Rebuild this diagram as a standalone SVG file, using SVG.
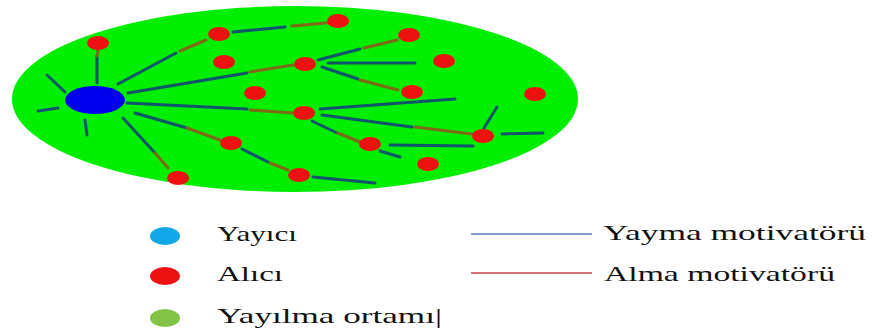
<svg xmlns="http://www.w3.org/2000/svg" width="872" height="336" viewBox="0 0 872 336">
<style>
.b{stroke:#10566a;stroke-width:3;fill:none;stroke-linecap:round}
.r{stroke:#7e6a16;stroke-width:3;fill:none;stroke-linecap:round}
.rc{fill:#ee1111}
.t{font-family:"Liberation Serif","Times New Roman",serif;font-size:21px;fill:#111}
</style>
<rect width="872" height="336" fill="#ffffff"/>
<g id="medium"><ellipse cx="295" cy="99" rx="283" ry="93" fill="#00ee00"/></g>
<g id="connectors">
<line class="b" x1="97" y1="83" x2="97" y2="56"/><line class="r" x1="97" y1="56" x2="98" y2="50"/>
<line class="b" x1="47" y1="75" x2="65" y2="92"/>
<line class="b" x1="38" y1="111" x2="58" y2="108"/>
<line class="b" x1="85" y1="120" x2="87" y2="135"/>
<line class="b" x1="123" y1="118" x2="155" y2="153"/><line class="r" x1="155" y1="153" x2="168" y2="168"/>
<line class="b" x1="135" y1="113" x2="187" y2="128"/><line class="r" x1="187" y1="128" x2="220" y2="140"/>
<line class="b" x1="127" y1="103" x2="247" y2="109"/><line class="r" x1="250" y1="110" x2="293" y2="113"/>
<line class="b" x1="128" y1="93" x2="247" y2="73"/><line class="r" x1="250" y1="72" x2="293" y2="65"/>
<line class="b" x1="118" y1="84" x2="176" y2="53"/><line class="r" x1="180" y1="51" x2="206" y2="40"/>
<line class="b" x1="233" y1="32" x2="285" y2="27"/><line class="r" x1="292" y1="26" x2="326" y2="23"/>
<line class="b" x1="318" y1="60" x2="360" y2="49"/><line class="r" x1="364" y1="48" x2="397" y2="40"/>
<line class="b" x1="328" y1="63" x2="415" y2="63"/>
<line class="b" x1="322" y1="67" x2="358" y2="79"/><line class="r" x1="360" y1="80" x2="398" y2="90"/>
<line class="b" x1="320" y1="109" x2="455" y2="99"/>
<line class="b" x1="322" y1="115" x2="412" y2="127"/><line class="r" x1="415" y1="127" x2="472" y2="134"/>
<line class="b" x1="312" y1="121" x2="337" y2="133"/><line class="r" x1="338" y1="133" x2="360" y2="142"/>
<line class="b" x1="390" y1="145" x2="473" y2="146"/>
<line class="b" x1="380" y1="151" x2="400" y2="157"/>
<line class="b" x1="484" y1="128" x2="497" y2="107"/>
<line class="b" x1="502" y1="134" x2="543" y2="133"/>
<line class="b" x1="242" y1="149" x2="268" y2="162"/><line class="r" x1="270" y1="163" x2="288" y2="170"/>
<line class="b" x1="313" y1="177" x2="375" y2="183"/>
</g>
<g id="hub"><ellipse cx="95" cy="100" rx="30" ry="14" fill="#0000ee"/></g>
<g id="receivers">
<ellipse class="rc" cx="98" cy="43" rx="11" ry="7"/>
<ellipse class="rc" cx="219" cy="34" rx="11" ry="7"/>
<ellipse class="rc" cx="338" cy="21" rx="11" ry="7"/>
<ellipse class="rc" cx="409" cy="35" rx="11" ry="7"/>
<ellipse class="rc" cx="224" cy="62" rx="11" ry="7"/>
<ellipse class="rc" cx="305" cy="64" rx="11" ry="7"/>
<ellipse class="rc" cx="444" cy="61" rx="11" ry="7"/>
<ellipse class="rc" cx="255" cy="93" rx="11" ry="7"/>
<ellipse class="rc" cx="412" cy="92" rx="11" ry="7"/>
<ellipse class="rc" cx="535" cy="94" rx="11" ry="7"/>
<ellipse class="rc" cx="304" cy="113" rx="11" ry="7"/>
<ellipse class="rc" cx="483" cy="136" rx="11" ry="7"/>
<ellipse class="rc" cx="231" cy="143" rx="11" ry="7"/>
<ellipse class="rc" cx="370" cy="144" rx="11" ry="7"/>
<ellipse class="rc" cx="428" cy="164" rx="11" ry="7"/>
<ellipse class="rc" cx="178" cy="178" rx="11" ry="7"/>
<ellipse class="rc" cx="299" cy="175" rx="11" ry="7"/>
</g>
<g id="legend">
<ellipse cx="165" cy="236" rx="15" ry="9" fill="#12a8e8"/>
<ellipse cx="165" cy="276" rx="15" ry="9" fill="#ee1111"/>
<ellipse cx="165" cy="318" rx="15" ry="9" fill="#82c244"/>
<text class="t" x="217" y="241" textLength="80" lengthAdjust="spacingAndGlyphs">Yayıcı</text>
<text class="t" x="217" y="281" textLength="66" lengthAdjust="spacingAndGlyphs">Alıcı</text>
<text class="t" x="217" y="323" textLength="225" lengthAdjust="spacingAndGlyphs">Yayılma ortamı|</text>
<line x1="471" y1="234" x2="592" y2="234" stroke="#5a82b0" stroke-width="1.5"/>
<line x1="471" y1="273" x2="592" y2="273" stroke="#c8404c" stroke-width="1.5"/>
<text class="t" x="603" y="240" textLength="263" lengthAdjust="spacingAndGlyphs">Yayma motivatörü</text>
<text class="t" x="604" y="281" textLength="231" lengthAdjust="spacingAndGlyphs">Alma motivatörü</text>
</g>
</svg>
